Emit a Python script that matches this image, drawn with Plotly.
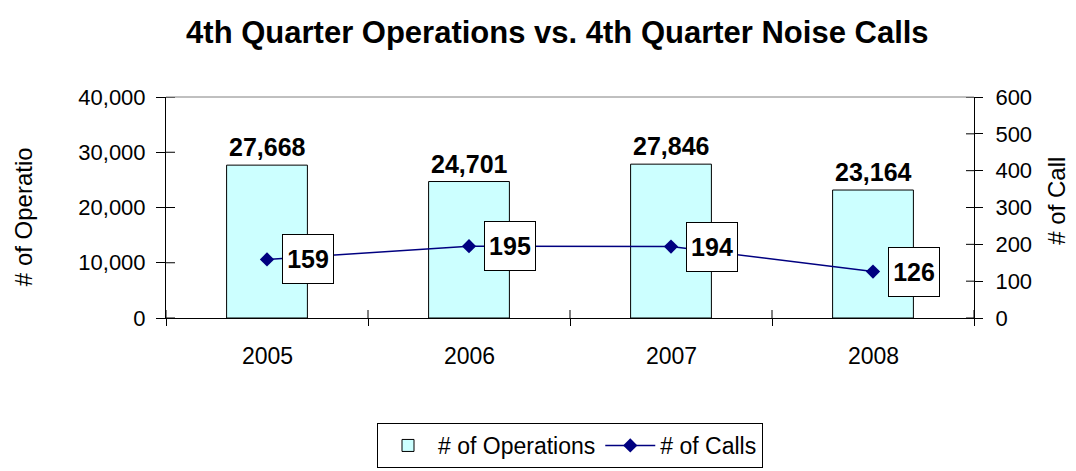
import plotly.graph_objects as go

years = [2005, 2006, 2007, 2008]
operations = [27668, 24701, 27846, 23164]
calls = [159, 195, 194, 126]

title_text = "4th Quarter Operations vs. 4th Quarter Noise Calls"
left_title = "# of Operatio"
right_title = "# of Call"
ops_name = "# of Operations"
calls_name = "# of Calls"

FONT = "Liberation Sans, Arial, sans-serif"

ops_range = [0, 40000]
ops_step = 10000
calls_range = [0, 600]
calls_step = 100

x_lo = years[0] - 0.5
x_hi = years[-1] + 0.5
boundaries = [y - 0.5 for y in years] + [years[-1] + 0.5]
ops_ticks = list(range(ops_range[0], ops_range[1] + 1, ops_step))
calls_ticks = list(range(calls_range[0], calls_range[1] + 1, calls_step))

fig = go.Figure()
fig.add_trace(go.Bar(
    x=years, y=operations, name=ops_name, width=0.4,
    marker=dict(color="#CCFFFF", line=dict(color="black", width=1)),
    xaxis="x", yaxis="y",
))
fig.add_trace(go.Scatter(
    x=years, y=calls, name=calls_name, mode="lines+markers",
    line=dict(color="#000080", width=1.5),
    marker=dict(symbol="diamond", size=11, color="#000080"),
    xaxis="x", yaxis="y2",
))

# bar value labels
for yr, v in zip(years, operations):
    fig.add_annotation(
        x=yr, y=v, xref="x", yref="y", text=f"<b>{v:,}</b>", showarrow=False,
        xanchor="center", yanchor="bottom", yshift=2,
        font=dict(family=FONT, size=25, color="black"),
    )

# call value labels in boxes
for yr, c in zip(years, calls):
    fig.add_annotation(
        x=yr, y=c, xref="x", yref="y2", text=f"<b>{c}</b>", showarrow=False,
        xanchor="left", yanchor="middle", xshift=15, width=48, height=46,
        bgcolor="white", bordercolor="black", borderwidth=1, borderpad=1,
        font=dict(family=FONT, size=25, color="black"),
    )

# category labels
for yr in years:
    fig.add_annotation(
        x=yr, y=0, xref="x", yref="paper", text=str(yr), showarrow=False,
        xanchor="center", yanchor="middle", yshift=-38,
        font=dict(family=FONT, size=23, color="black"),
    )

fig.add_annotation(text=left_title, xref="paper", yref="paper", x=-0.176, y=0.46,
                   textangle=-90, showarrow=False, xanchor="center", yanchor="middle",
                   font=dict(family=FONT, size=24, color="black"))
fig.add_annotation(text=right_title, xref="paper", yref="paper", x=1.101, y=0.529,
                   textangle=-90, showarrow=False, xanchor="center", yanchor="middle",
                   font=dict(family=FONT, size=24, color="black"))

# top border of plot area (grey)
fig.add_shape(type="line", xref="paper", yref="paper", x0=0, x1=1, y0=1, y1=1,
              line=dict(color="#808080", width=1))

# inside halves of the crossing tick marks (axis outside ticks give the other half)
tick_line = dict(color="black", width=1)
for t in ops_ticks:
    fig.add_shape(type="line", xref="paper", yref="y", xsizemode="pixel", xanchor=0,
                  x0=0, x1=9, y0=t, y1=t, line=tick_line)
for t in calls_ticks:
    fig.add_shape(type="line", xref="paper", yref="y2", xsizemode="pixel", xanchor=1,
                  x0=-8, x1=0, y0=t, y1=t, line=tick_line)
for b in boundaries:
    fig.add_shape(type="line", xref="x", yref="paper", ysizemode="pixel", yanchor=0,
                  x0=b, x1=b, y0=0, y1=8, line=tick_line)

axis_font = dict(family=FONT, size=22, color="black")

fig.update_layout(
    width=1076, height=471,
    margin=dict(l=166, r=102, t=97, b=153, autoexpand=False),
    paper_bgcolor="white", plot_bgcolor="white",
    title=dict(text=f"<b>{title_text}</b>", x=0.518, xref="container", xanchor="center",
               y=1 - 32 / 471, yref="container", yanchor="middle",
               font=dict(family=FONT, size=31, color="black")),
    showlegend=True,
    legend=dict(orientation="h", x=0.5, xanchor="center", y=1 - 423 / 471,
                yref="container", yanchor="top",
                bordercolor="black", borderwidth=1, bgcolor="white", itemwidth=50,
                font=dict(family=FONT, size=23, color="black"), traceorder="normal"),
    xaxis=dict(range=[x_lo, x_hi], tickmode="array", tickvals=boundaries,
               ticks="outside", ticklen=7, tickcolor="black", showticklabels=False,
               showline=True, linecolor="black", linewidth=1, showgrid=False,
               zeroline=False),
    yaxis=dict(range=ops_range, tickmode="array", tickvals=ops_ticks, tickformat=",",
               ticks="outside", ticklen=9, tickcolor="black", showline=True,
               linecolor="black", linewidth=1, showgrid=False, zeroline=False,
               tickfont=axis_font, ticklabelstandoff=6),
    yaxis2=dict(range=calls_range, tickmode="array", tickvals=calls_ticks,
                overlaying="y", side="right", anchor="x",
                ticks="outside", ticklen=8, tickcolor="black", showline=True,
                linecolor="black", linewidth=1, showgrid=False, zeroline=False,
                tickfont=axis_font, ticklabelstandoff=8),
)

fig.write_html("out.html")
